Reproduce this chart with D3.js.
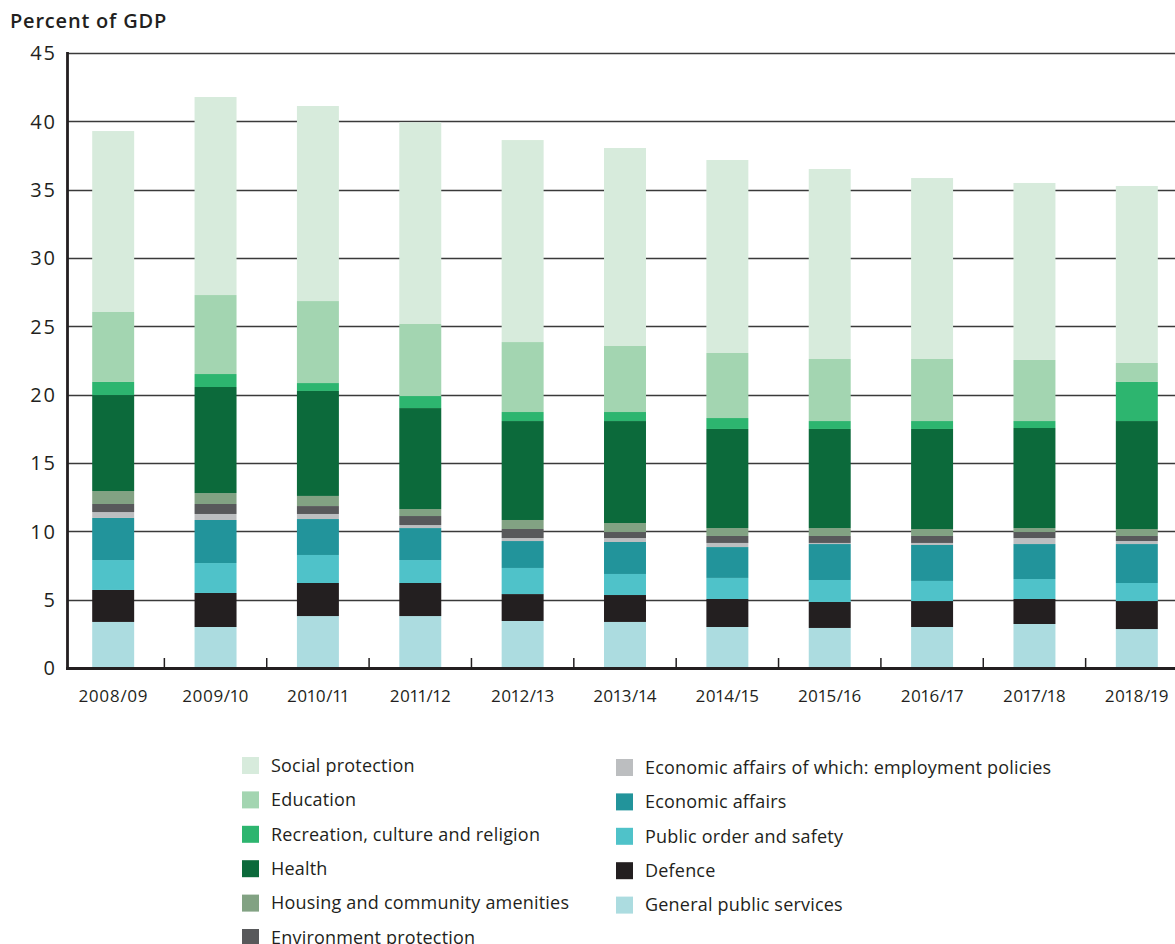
<!DOCTYPE html>
<html>
<head>
<meta charset="utf-8">
<script src="https://cdn.jsdelivr.net/npm/d3@7"></script>
<style>
body { margin: 0; background: #fff; }
svg { display: block; font-family: "Open Sans", sans-serif; color: #231f20; }
.xlabel { font-variant-numeric: proportional-nums; }
</style>
</head>
<body>
<div id="graphic"></div>
<script>

var years = ['2008/09','2009/10','2010/11','2011/12','2012/13','2013/14','2014/15','2015/16','2016/17','2017/18','2018/19'];

// stacked bottom to top
var seriesKeys = ['gps','def','pos','eco','emp','env','hou','hea','rec','edu','soc'];

var gps = [3.37,3.00,3.80,3.80,3.44,3.37,3.00,2.93,3.00,3.22,2.85];
var def = [2.34,2.49,2.42,2.42,1.97,1.97,2.05,1.90,1.90,1.83,2.05];
var pos = [2.19,2.19,2.05,1.68,1.91,1.54,1.54,1.61,1.47,1.46,1.32];
var eco = [3.08,3.15,2.63,2.34,1.97,2.34,2.26,2.63,2.63,2.56,2.85];
var emp = [0.43,0.44,0.37,0.22,0.22,0.29,0.30,0.08,0.15,0.44,0.22];
var env = [0.59,0.73,0.58,0.66,0.66,0.44,0.51,0.51,0.51,0.44,0.37];
var hou = [0.95,0.80,0.74,0.51,0.66,0.66,0.58,0.58,0.51,0.29,0.51];
var hea = [7.02,7.76,7.68,7.39,7.24,7.46,7.25,7.25,7.32,7.32,7.90];
var rec = [0.96,0.95,0.58,0.88,0.66,0.66,0.80,0.58,0.58,0.51,2.86];
var edu = [5.12,5.78,6.00,5.27,5.12,4.83,4.76,4.54,4.54,4.47,1.39];
var soc = [13.24,14.49,14.27,14.76,14.78,14.49,14.12,13.90,13.24,12.95,12.95];

var labels = {
	soc: 'Social protection',
	edu: 'Education',
	rec: 'Recreation, culture and religion',
	hea: 'Health',
	hou: 'Housing and community amenities',
	env: 'Environment protection',
	emp: 'Economic affairs of which: employment policies',
	eco: 'Economic affairs',
	pos: 'Public order and safety',
	def: 'Defence',
	gps: 'General public services'
};

var colors = {
	soc: '#d7ebdc',
	edu: '#a3d5b1',
	rec: '#2db56f',
	hea: '#0c6a3b',
	hou: '#82a283',
	env: '#58595b',
	emp: '#bcbec0',
	eco: '#22949b',
	pos: '#4fc2c9',
	def: '#231f20',
	gps: '#acdce0'
};

var legendLeft = ['soc','edu','rec','hea','hou','env'];
var legendRight = ['emp','eco','pos','def','gps'];

var yTicks = [0,5,10,15,20,25,30,35,40,45];

var width = 1175, height = 944;
var ink = '#231f20';

var values = {gps:gps, def:def, pos:pos, eco:eco, emp:emp, env:env, hou:hou, hea:hea, rec:rec, edu:edu, soc:soc};

var table = years.map(function(y, i) {
	var row = {year: y};
	seriesKeys.forEach(function(k) { row[k] = values[k][i]; });
	return row;
});

var stack = d3.stack().keys(seriesKeys)(table);

var svg = d3.select("#graphic").append("svg")
	.attr("width", width)
	.attr("height", height);

var x = d3.scaleBand()
	.domain(years)
	.range([62, 1188])
	.paddingInner(0.59)
	.paddingOuter(0.295);

var y = d3.scaleLinear()
	.domain([0, 45])
	.range([668, 53]);

var axisLeftX = 67.5;

// gridlines
svg.append("g")
	.attr("class", "grid")
	.selectAll("line")
	.data(yTicks.filter(function(d) { return d > 0; }))
	.enter().append("line")
	.attr("x1", axisLeftX)
	.attr("x2", width)
	.attr("y1", function(d) { return Math.round(y(d)) + 0.5; })
	.attr("y2", function(d) { return Math.round(y(d)) + 0.5; })
	.attr("stroke", "#3a3a3a")
	.attr("stroke-width", 1.6);

// bars
svg.append("g")
	.selectAll("g")
	.data(stack)
	.enter().append("g")
	.attr("fill", function(d) { return colors[d.key]; })
	.selectAll("rect")
	.data(function(d) { return d; })
	.enter().append("rect")
	.attr("x", function(d) { return x(d.data.year); })
	.attr("width", x.bandwidth())
	.attr("y", function(d) { return y(d[1]); })
	.attr("height", function(d) { return y(d[0]) - y(d[1]); });

// y axis labels
svg.append("g")
	.selectAll("text")
	.data(yTicks)
	.enter().append("text")
	.attr("x", 57)
	.attr("y", function(d) { return y(d); })
	.attr("dy", "0.36em")
	.attr("text-anchor", "end")
	.attr("font-size", 20)
	.attr("letter-spacing", 2)
	.attr("fill", ink)
	.text(function(d) { return d; });

// x tick marks between bars
var bounds = years.slice(1).map(function(d) { return x(d) - x.step() * x.paddingInner() / 2; });

svg.append("g")
	.selectAll("line")
	.data(bounds)
	.enter().append("line")
	.attr("x1", function(d) { return d; })
	.attr("x2", function(d) { return d; })
	.attr("y1", 658)
	.attr("y2", 668)
	.attr("stroke", ink)
	.attr("stroke-width", 1.5);

// axis lines
svg.append("line")
	.attr("x1", axisLeftX).attr("x2", axisLeftX)
	.attr("y1", 52).attr("y2", 670)
	.attr("stroke", ink)
	.attr("stroke-width", 2.8);

svg.append("line")
	.attr("x1", axisLeftX - 1.4).attr("x2", width)
	.attr("y1", 668.5).attr("y2", 668.5)
	.attr("stroke", ink)
	.attr("stroke-width", 2.8);

// x labels
svg.append("g")
	.selectAll("text")
	.data(years)
	.enter().append("text")
	.attr("class", "xlabel")
	.attr("x", function(d) { return x(d) + x.bandwidth() / 2 + 0.3; })
	.attr("y", 702)
	.attr("text-anchor", "middle")
	.attr("font-size", 17)
	.attr("letter-spacing", 0.6)
	.attr("fill", ink)
	.text(function(d) { return d; });

// title
svg.append("text")
	.attr("x", 10)
	.attr("y", 28)
	.attr("font-size", 20)
	.attr("font-weight", 600)
	.attr("letter-spacing", 0.8)
	.attr("fill", ink)
	.text("Percent of GDP");

// legend
function legendColumn(keys, sx, tx, top) {
	var g = svg.append("g");
	var item = g.selectAll("g")
		.data(keys)
		.enter().append("g")
		.attr("transform", function(d, i) { return "translate(0," + (top + i * 34.4) + ")"; });

	item.append("rect")
		.attr("x", sx)
		.attr("y", -8.5)
		.attr("width", 17)
		.attr("height", 17)
		.attr("fill", function(d) { return colors[d]; });

	item.append("text")
		.attr("x", tx)
		.attr("y", 0)
		.attr("dy", "0.35em")
		.attr("font-size", 18)
		.attr("letter-spacing", 0.2)
		.attr("fill", ink)
		.text(function(d) { return labels[d]; });
}

legendColumn(legendLeft, 242, 271, 765.5);
legendColumn(legendRight, 616, 645, 767.5);

</script>
</body>
</html>
